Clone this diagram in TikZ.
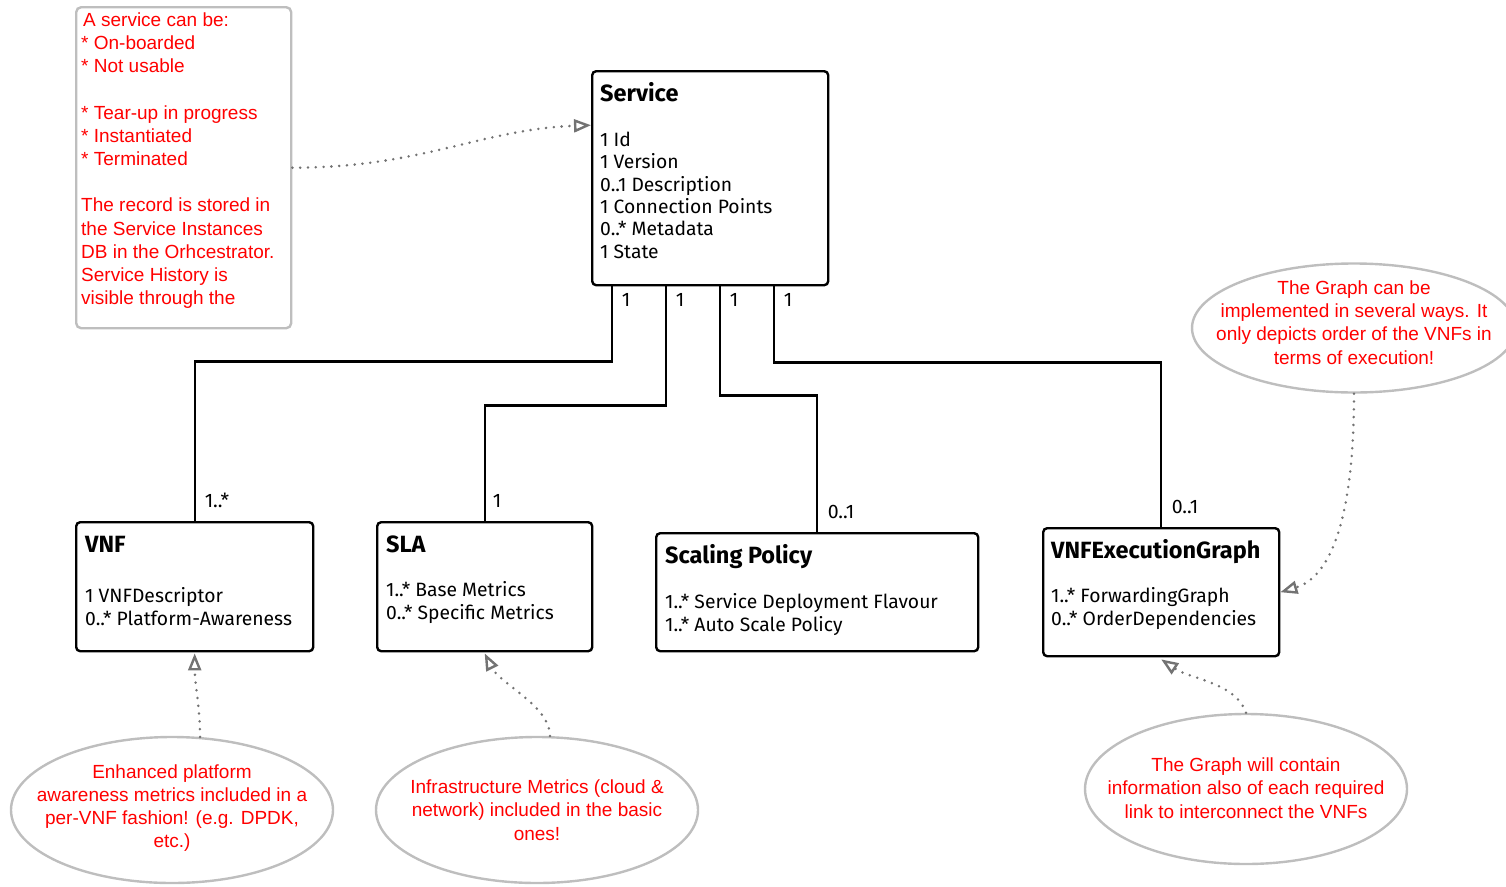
\documentclass[tikz,border=0pt]{standalone}
\usepackage{fontspec}
\setmainfont{Liberation Sans}
\newfontfamily\umlfont{Fira Sans}
\usetikzlibrary{arrows.meta,shapes.geometric,calc}

\definecolor{notered}{RGB}{255,0,0}
\definecolor{noteborder}{RGB}{190,190,190}
\definecolor{linkgray}{RGB}{115,115,115}

\begin{document}
\begin{tikzpicture}[x=1pt,y=-1pt,
  umlbox/.style={draw=black, line width=2.4pt, rounded corners=4pt, inner sep=0pt,
                 anchor=north west, fill=white},
  umltitle/.style={anchor=base west, inner sep=0pt, font=\umlfont\bfseries\fontsize{23.5}{28}\selectfont},
  umlattr/.style={anchor=base west, inner sep=0pt, align=left, font=\umlfont\fontsize{19.3}{22.4}\selectfont},
  mult/.style={anchor=base, inner sep=0pt, font=\umlfont\fontsize{19.5}{22}\selectfont},
  assoc/.style={draw=black, line width=2.4pt},
  notebox/.style={draw=noteborder, line width=2.4pt, rounded corners=5pt, inner sep=0pt, anchor=north west},
  bubble/.style={ellipse, draw=noteborder, line width=2.4pt, inner sep=0pt},
  redtext/.style={text=notered, inner sep=0pt, align=center, font=\fontsize{19}{23.2}\selectfont},
  notelink/.style={draw=linkgray, line width=2.8pt, line cap=round, dash pattern=on 0pt off 7.8pt,
                   -{Triangle[open, length=17pt, width=13pt, line width=2.4pt, sep=0pt]}},
]
\useasboundingbox (0,0) rectangle (1506,886);

% ---- classes (text nodes are anchored on the baseline of their last line) ----
\node[umlbox, minimum width=236, minimum height=214] (svc) at (591,70) {};
\node[umltitle] at (600,101) {Service};
\node[umlattr] at (600,258.3) {1 Id\\1 Version\\0..1 Description\\1 Connection Points\\0..* Metadata\\1 State};

\node[umlbox, minimum width=237, minimum height=129] (vnf) at (75,521) {};
\node[umltitle] at (85,552) {VNF};
\node[umlattr] at (85,625.3) {1 VNFDescriptor\\0..* Platform-Awareness};

\node[umlbox, minimum width=215, minimum height=129] (sla) at (376,521) {};
\node[umltitle] at (386,552) {SLA};
\node[umlattr] at (386,619.3) {1..* Base Metrics\\0..* Specific Metrics};

\node[umlbox, minimum width=322, minimum height=118] (scale) at (655,532) {};
\node[umltitle] at (665,563) {Scaling Policy};
\node[umlattr] at (665,631.3) {1..* Service Deployment Flavour\\1..* Auto Scale Policy};

\node[umlbox, minimum width=236, minimum height=128] (graph) at (1042,527) {};
\node[umltitle] at (1051,558) {VNFExecutionGraph};
\node[umlattr] at (1051,625.3) {1..* ForwardingGraph\\0..* OrderDependencies};

% ---- associations from Service ----
\draw[assoc] ([xshift=21pt]svc.south west) -- ++(0,75) -| (vnf.north);
\draw[assoc] ([xshift=75pt]svc.south west) -- ++(0,119) -| (sla.north);
\draw[assoc] ([xshift=129pt]svc.south west) -- ++(0,109) -| (scale.north);
\draw[assoc] ([xshift=183pt]svc.south west) -- ++(0,76) -| (graph.north);

\node[mult] at (626,306.5) {1};
\node[mult] at (680,306.5) {1};
\node[mult] at (734,306.5) {1};
\node[mult] at (788,306.5) {1};
\node[mult] at (217,507.5) {1..*};
\node[mult] at (497,507.5) {1};
\node[mult] at (841,518.5) {0..1};
\node[mult] at (1185,513.5) {0..1};

% ---- state note ----
\node[notebox, minimum width=215, minimum height=321] (note) at (75,6) {};
\node[redtext, align=left, anchor=base west] at (81,304.7) {\hspace*{2pt}A service can be:\\
* On-boarded\\* Not usable\\\strut\\* Tear-up in progress\\* Instantiated\\* Terminated\\\strut\\
The record is stored in\\the Service Instances\\DB in the Orhcestrator.\\Service History is\\visible through the};

% ---- comment bubbles ----
\node[bubble, minimum width=322, minimum height=146] (e1) at (172,810) {};
\node[redtext] at (172,808) {Enhanced platform\\awareness metrics included in a\\per-VNF fashion! (e.g. DPDK,\\etc.)};

\node[bubble, minimum width=322, minimum height=146] (e2) at (537,810) {};
\node[redtext] at (537,810) {Infrastructure Metrics (cloud \&\\network) included in the basic\\ones!};

\node[bubble, minimum width=322, minimum height=150] (e3) at (1246,789) {};
\node[redtext] at (1246,788) {The Graph will contain\\information also of each required\\link to interconnect the VNFs};

\node[bubble, minimum width=324, minimum height=129] (e4) at (1354,328) {};
\node[redtext] at (1354,322.5) {The Graph can be\\implemented in several ways. It\\only depicts order of the VNFs in\\terms of execution!};

% ---- dotted note links ----
\draw[notelink] (note.east) .. controls +(130,0) and +(-110,4) .. ([yshift=53pt]svc.west);
\draw[notelink] (e4.south) .. controls +(0,150) and +(40,-12) .. (graph.east);
\draw[notelink] (e3.north) .. controls +(-10,-30) and +(30,20) .. ([yshift=-2pt]graph.south);
\draw[notelink] (e1.69) .. controls +(0,-30) and +(0,30) .. ([yshift=-1pt]vnf.south);
\draw[notelink] (e2.80) .. controls +(0,-30) and +(15,30) .. ([yshift=-1pt]sla.south);

\end{tikzpicture}
\end{document}
